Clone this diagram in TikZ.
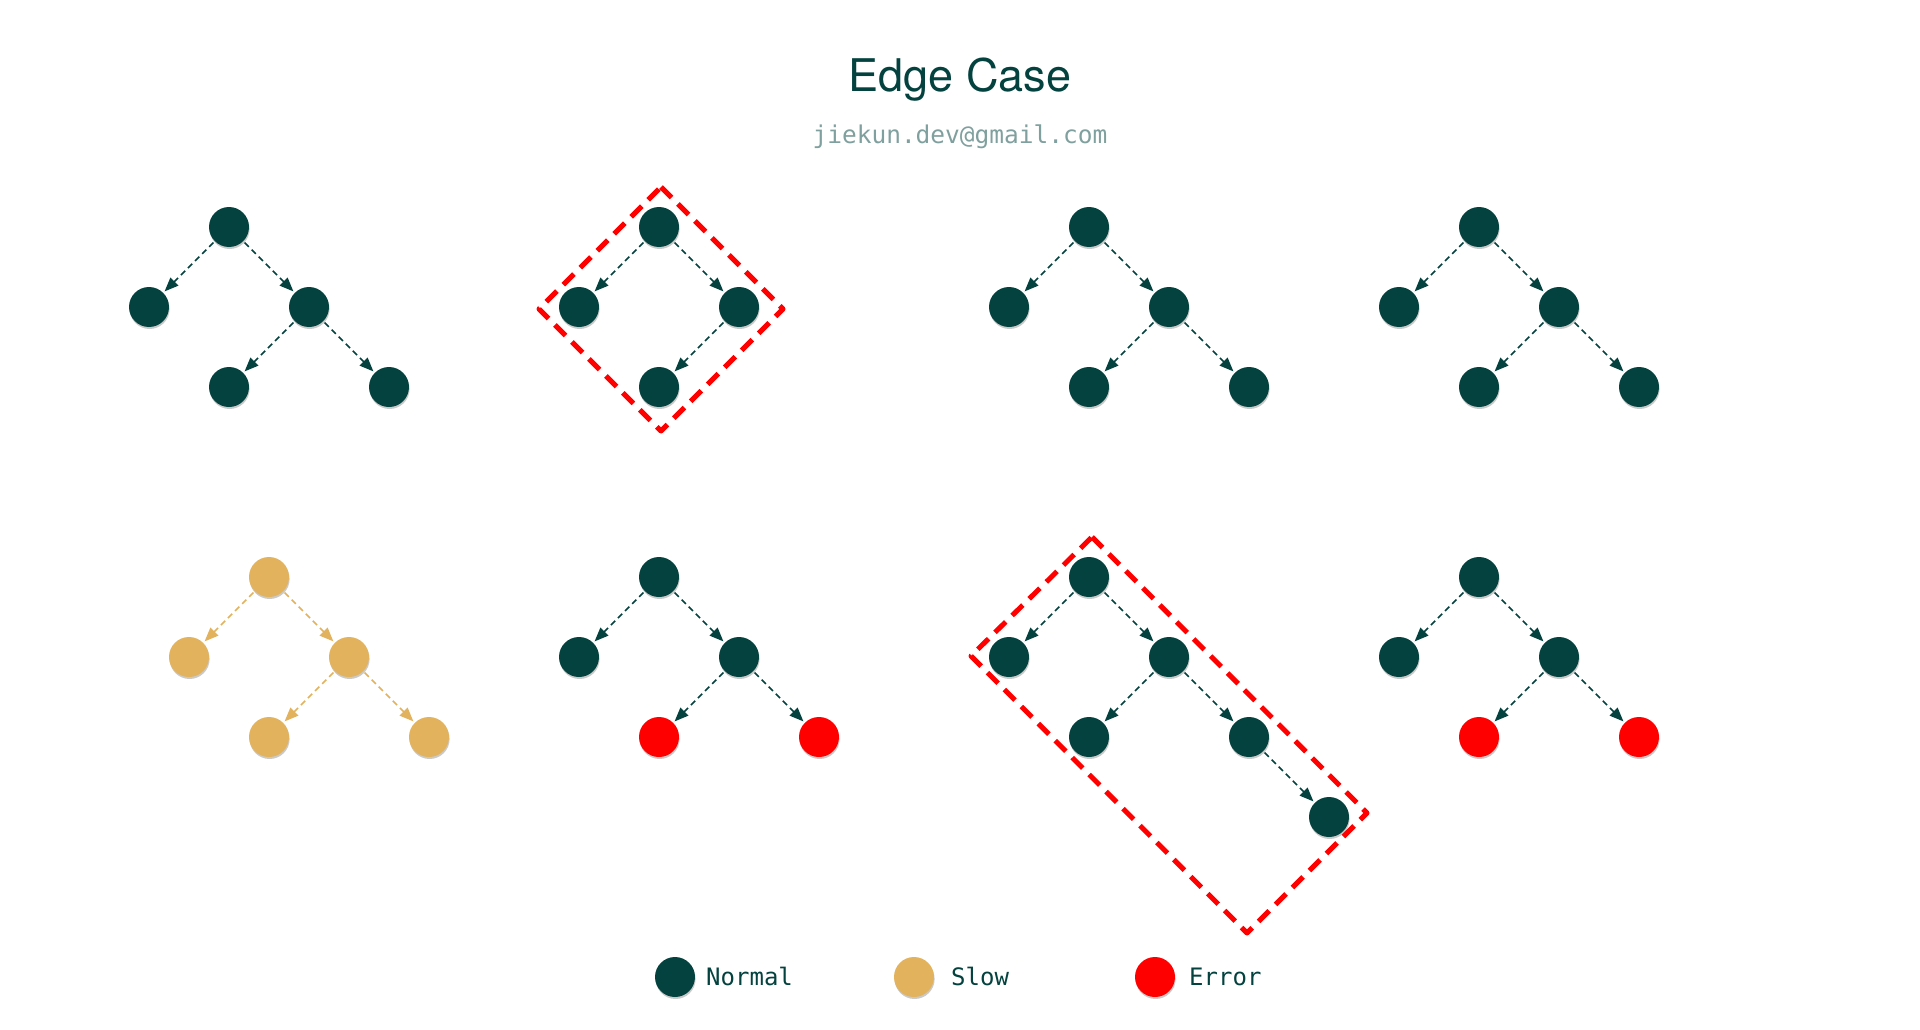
\documentclass[tikz,border=0pt]{standalone}
\usepackage{fontspec}
\setmainfont{TeX Gyre Heros}
\newfontfamily\monofnt{DejaVu Sans Mono}
\usetikzlibrary{arrows.meta,shadows}
\definecolor{teal0}{HTML}{03423F}
\definecolor{slowc}{HTML}{E3B25C}
\definecolor{errc}{HTML}{FF0000}
\definecolor{mailc}{HTML}{7FA09E}
\tikzset{
  nd/.style={circle,minimum size=40pt,inner sep=0pt,outer sep=2pt,
    drop shadow={shadow xshift=0.6pt,shadow yshift=-2pt,opacity=0.35,fill=black!60}},
  nrm/.style={nd,fill=teal0},
  slw/.style={nd,fill=slowc},
  err/.style={nd,fill=errc},
  ed/.style={draw=teal0,line width=1.7pt,dash pattern=on 6pt off 4pt,
    -{Triangle[length=14pt,width=11pt]}},
  eds/.style={ed,draw=slowc,-{Triangle[length=14pt,width=11pt,fill=slowc]}},
  redbox/.style={draw=errc,line width=5pt,dash pattern=on 15pt off 9pt,line join=round},
  lgtext/.style={anchor=base west,inner sep=0pt,text=teal0,font=\monofnt\fontsize{24}{28}\selectfont}
}
\begin{document}
\begin{tikzpicture}[x=1pt,y=-1pt]
\useasboundingbox (0,0) rectangle (1920,1030);
% title
\node[anchor=base,inner sep=0pt,text=teal0,font=\fontsize{45}{50}\selectfont] (title) at (960,92) {Edge Case};
\node[anchor=base,inner sep=0pt,text=mailc,font=\monofnt\fontsize{24.5}{28}\selectfont] (mail) at (960,143) {jiekun.dev@gmail.com};

% red boxes (behind)
\coordinate (d1) at (661,187); \coordinate (d2) at (783,309);
\coordinate (d3) at (661,431); \coordinate (d4) at (539,309);
\draw[redbox] (d1) -- (d2) -- (d3) -- (d4) -- cycle;
\coordinate (r1) at (1092,537); \coordinate (r2) at (1367,813);
\coordinate (r3) at (1247,933); \coordinate (r4) at (971,656);
\draw[redbox] (r1) -- (r2) -- (r3) -- (r4) -- cycle;

% tree 1
\node[nrm] (a0) at (229,227) {};
\node[nrm] (a1) at (149,307) {};
\node[nrm] (a2) at (309,307) {};
\node[nrm] (a3) at (229,387) {};
\node[nrm] (a4) at (389,387) {};
\draw[ed] (a0) -- (a1); \draw[ed] (a0) -- (a2);
\draw[ed] (a2) -- (a3); \draw[ed] (a2) -- (a4);

% tree 2
\node[nrm] (b0) at (659,227) {};
\node[nrm] (b1) at (579,307) {};
\node[nrm] (b2) at (739,307) {};
\node[nrm] (b3) at (659,387) {};
\draw[ed] (b0) -- (b1); \draw[ed] (b0) -- (b2);
\draw[ed] (b2) -- (b3);

% tree 3
\node[nrm] (c0) at (1089,227) {};
\node[nrm] (c1) at (1009,307) {};
\node[nrm] (c2) at (1169,307) {};
\node[nrm] (c3) at (1089,387) {};
\node[nrm] (c4) at (1249,387) {};
\draw[ed] (c0) -- (c1); \draw[ed] (c0) -- (c2);
\draw[ed] (c2) -- (c3); \draw[ed] (c2) -- (c4);

% tree 4
\node[nrm] (e0) at (1479,227) {};
\node[nrm] (e1) at (1399,307) {};
\node[nrm] (e2) at (1559,307) {};
\node[nrm] (e3) at (1479,387) {};
\node[nrm] (e4) at (1639,387) {};
\draw[ed] (e0) -- (e1); \draw[ed] (e0) -- (e2);
\draw[ed] (e2) -- (e3); \draw[ed] (e2) -- (e4);

% tree 5 (slow)
\node[slw] (f0) at (269,577) {};
\node[slw] (f1) at (189,657) {};
\node[slw] (f2) at (349,657) {};
\node[slw] (f3) at (269,737) {};
\node[slw] (f4) at (429,737) {};
\draw[eds] (f0) -- (f1); \draw[eds] (f0) -- (f2);
\draw[eds] (f2) -- (f3); \draw[eds] (f2) -- (f4);

% tree 6
\node[nrm] (g0) at (659,577) {};
\node[nrm] (g1) at (579,657) {};
\node[nrm] (g2) at (739,657) {};
\node[err] (g3) at (659,737) {};
\node[err] (g4) at (819,737) {};
\draw[ed] (g0) -- (g1); \draw[ed] (g0) -- (g2);
\draw[ed] (g2) -- (g3); \draw[ed] (g2) -- (g4);

% tree 7
\node[nrm] (h0) at (1089,577) {};
\node[nrm] (h1) at (1009,657) {};
\node[nrm] (h2) at (1169,657) {};
\node[nrm] (h3) at (1089,737) {};
\node[nrm] (h4) at (1249,737) {};
\node[nrm] (h5) at (1329,817) {};
\draw[ed] (h0) -- (h1); \draw[ed] (h0) -- (h2);
\draw[ed] (h2) -- (h3); \draw[ed] (h2) -- (h4);
\draw[ed] (h4) -- (h5);

% tree 8
\node[nrm] (k0) at (1479,577) {};
\node[nrm] (k1) at (1399,657) {};
\node[nrm] (k2) at (1559,657) {};
\node[err] (k3) at (1479,737) {};
\node[err] (k4) at (1639,737) {};
\draw[ed] (k0) -- (k1); \draw[ed] (k0) -- (k2);
\draw[ed] (k2) -- (k3); \draw[ed] (k2) -- (k4);

% legend
\node[nrm] (l1) at (675,977) {};
\node[lgtext] (t1) at (706,985) {Normal};
\node[slw] (l2) at (914,977) {};
\node[lgtext] (t2) at (951,985) {Slow};
\node[err] (l3) at (1155,977) {};
\node[lgtext] (t3) at (1189,985) {Error};
\end{tikzpicture}
\end{document}
